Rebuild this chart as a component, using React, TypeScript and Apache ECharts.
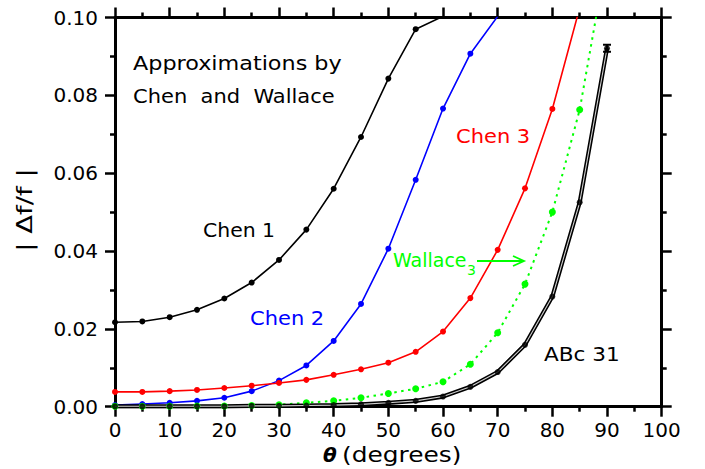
import React, { useEffect, useRef } from "react";
import * as echarts from "echarts";

const theta = [0, 5, 10, 15, 20, 25, 30, 35, 40, 45, 50, 55, 60, 65, 70, 75, 80, 85, 90];
const chen1 = [0.0217, 0.0219, 0.023, 0.0249, 0.0278, 0.0319, 0.0377, 0.0455, 0.056, 0.0693, 0.0843, 0.097, 0.1003];
const chen2 = [0.0004, 0.0007, 0.001, 0.0015, 0.0023, 0.004, 0.0067, 0.0106, 0.0169, 0.0264, 0.0406, 0.0583, 0.0766, 0.0907, 0.1003];
const chen3 = [0.0038, 0.0038, 0.004, 0.0043, 0.0048, 0.0054, 0.0061, 0.0069, 0.0082, 0.0096, 0.0113, 0.0141, 0.0193, 0.0279, 0.0403, 0.0561, 0.0765, 0.1025];
const wallace3 = [0.0001, 0.0001, 0.0001, 0.0002, 0.0002, 0.0003, 0.0005, 0.001, 0.0015, 0.0023, 0.0034, 0.0046, 0.0064, 0.0109, 0.019, 0.0315, 0.05, 0.0763, 0.116];
const abc31 = [0.0001, 0.0001, 0.0001, 0.0001, 0.0001, 0.0002, 0.0002, 0.0003, 0.0004, 0.0006, 0.001, 0.0015, 0.0026, 0.0051, 0.0089, 0.0159, 0.0283, 0.0525, 0.0921];
const abc31ErrTheta = [90];
const abc31ErrLo = [0.0912];
const abc31ErrHi = [0.093];
const xTicks = { min: 0, max: 100, interval: 10 };
const yTicks = { min: 0, max: 0.1, interval: 0.02 };

const pairs = (vals: number[]) => vals.map((v, i) => [theta[i], v]);

const FONT = "DejaVu Sans";

export default function App() {
  const ref = useRef<HTMLDivElement>(null);
  useEffect(() => {
    if (!ref.current) return;
    const chart = echarts.init(ref.current, undefined, { renderer: "svg" });
    const axisCommon = (show: boolean) => ({
      axisLine: { show: true, onZero: false, lineStyle: { color: "#000", width: 3 } },
      axisTick: { show: true, inside: false, length: 10, lineStyle: { color: "#000", width: 2.5 } },
      minorTick: { show: true, splitNumber: 2, length: 5, lineStyle: { color: "#000", width: 2.5 } },
      splitLine: { show: false },
      minorSplitLine: { show: false },
      axisLabel: { show, color: "#000", fontSize: 20, fontFamily: FONT },
    });
    const xa = (pos: string, show: boolean) => ({
      type: "value",
      position: pos,
      min: xTicks.min,
      max: xTicks.max,
      interval: xTicks.interval,
      ...axisCommon(show),
      axisLabel: { ...axisCommon(show).axisLabel, margin: 13 },
    });
    const ya = (pos: string, show: boolean) => ({
      type: "value",
      position: pos,
      min: yTicks.min,
      max: yTicks.max,
      interval: yTicks.interval,
      ...axisCommon(show),
      axisLabel: { ...axisCommon(show).axisLabel, margin: 17, formatter: (v: number) => v.toFixed(2) },
    });
    const lineSeries = (data: number[], color: string, extra: any = {}) => ({
      type: "line",
      data: pairs(data),
      clip: true,
      symbol: "circle",
      symbolSize: 6,
      itemStyle: { color },
      lineStyle: { color, width: 1.6 },
      ...extra,
    });
    const txt = (text: string, x: number, y: number, color: string, fontSize: number, scaleX = 1, extra: any = {}) => ({
      type: "text",
      x,
      y,
      scaleX,
      z: 100,
      style: {
        text,
        fill: color,
        fontSize,
        fontFamily: FONT,
        align: "left",
        verticalAlign: "middle",
        textAlign: "left",
        textVerticalAlign: "middle",
        ...extra,
      },
    });
    chart.setOption({
      animation: false,
      backgroundColor: "#fff",
      grid: { left: 115, top: 17.5, right: 43.3, bottom: 62.3, containLabel: false },
      xAxis: [xa("bottom", true), xa("top", false)],
      yAxis: [ya("left", true), ya("right", false)],
      series: [
        lineSeries(chen1, "#000000"),
        lineSeries(chen2, "#0000ff"),
        lineSeries(chen3, "#ff0000"),
        lineSeries(wallace3, "#00ff00", { lineStyle: { color: "#00ff00", width: 2, type: [2.5, 4.5] }, symbolSize: 7 }),
        {
          type: "line",
          data: pairs(abc31),
          clip: true,
          symbol: "none",
          lineStyle: { color: "#000", width: 4.2 },
          z: 3,
        },
        {
          type: "line",
          data: pairs(abc31),
          clip: true,
          symbol: "none",
          lineStyle: { color: "#cfcfcf", width: 1.1 },
          z: 4,
        },
        {
          type: "scatter",
          data: pairs(abc31),
          symbol: "circle",
          symbolSize: 6,
          itemStyle: { color: "#000" },
          z: 5,
        },
        {
          type: "custom",
          z: 6,
          data: abc31ErrTheta.map((t, i) => [t, abc31ErrLo[i], abc31ErrHi[i]]),
          renderItem: (params: any, api: any) => {
            const x = api.value(0);
            const p1 = api.coord([x, api.value(1)]);
            const p2 = api.coord([x, api.value(2)]);
            const w = 4;
            return {
              type: "group",
              children: [
                { type: "line", shape: { x1: p1[0], y1: p1[1], x2: p2[0], y2: p2[1] }, style: { stroke: "#000", lineWidth: 2.5 } },
                { type: "line", shape: { x1: p1[0] - w, y1: p1[1], x2: p1[0] + w, y2: p1[1] }, style: { stroke: "#000", lineWidth: 2 } },
                { type: "line", shape: { x1: p2[0] - w, y1: p2[1], x2: p2[0] + w, y2: p2[1] }, style: { stroke: "#000", lineWidth: 2 } },
              ],
            };
          },
        },
      ],
      graphic: [
        txt("Approximations by", 133, 63, "#000", 20, 1.115),
        txt("Chen  and  Wallace", 133, 96, "#000", 20, 1.05),
        txt("Chen 1", 203, 230, "#000", 20, 1.02),
        txt("Chen 2", 250, 318, "#0000ff", 20, 1.05),
        txt("Chen 3", 456, 136, "#ff0000", 20, 1.05),
        txt("ABc 31", 544, 354, "#000", 20, 1.08),
        txt("Wallace", 393, 260, "#00ff00", 19, 1.0),
        txt("3", 467, 270, "#00ff00", 14, 1.0),
        {
          type: "line",
          z: 100,
          shape: { x1: 477, y1: 261, x2: 524, y2: 261 },
          style: { stroke: "#00ff00", lineWidth: 1.8 },
        },
        {
          type: "polyline",
          z: 100,
          shape: { points: [[513, 256], [524, 261], [513, 266]] },
          style: { stroke: "#00ff00", lineWidth: 1.8, fill: "none" },
        },
        {
          type: "text",
          x: 24,
          y: 210,
          rotation: Math.PI / 2,
          scaleX: 1.25,
          z: 100,
          style: {
            text: "| Δf/f |",
            fill: "#000",
            fontSize: 22,
            fontFamily: FONT,
            align: "center",
            verticalAlign: "middle",
            textAlign: "center",
            textVerticalAlign: "middle",
          },
        },
        txt("θ", 323, 455, "#000", 20, 1, { fontWeight: "bold", fontStyle: "italic" }),
        txt("(degrees)", 342, 455, "#000", 22, 1.13),
      ],
    });
    return () => chart.dispose();
  }, []);
  return <div ref={ref} style={{ position: "fixed", left: 0, top: 0, width: 705, height: 469 }} />;
}
